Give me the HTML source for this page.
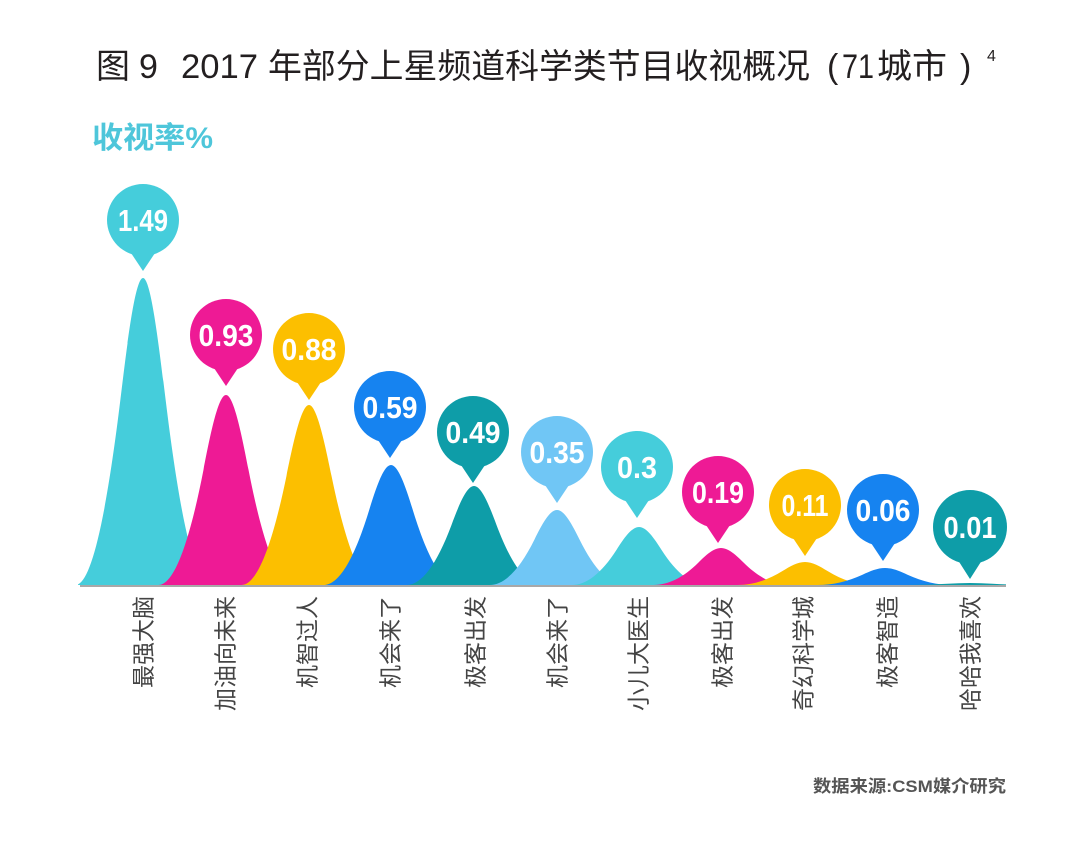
<!DOCTYPE html>
<html><head><meta charset="utf-8"><style>
html,body{margin:0;padding:0;background:#fff;}
svg{display:block;}
</style></head><body>
<svg width="1080" height="851" viewBox="0 0 1080 851" xmlns="http://www.w3.org/2000/svg" font-family="'Liberation Sans','Noto Sans CJK SC',sans-serif">
<defs>
<path id="bell" d="M-3.2 0 L-3 0 C-2.333 0,-1.667 0.2022,-1 0.6065 C-0.667 0.8087,-0.333 1,0 1 C0.333 1,0.667 0.8087,1 0.6065 C1.667 0.2022,2.333 0,3 0 L3.2 0 Z"/>
<clipPath id="clip"><rect x="78" y="150" width="928" height="436"/></clipPath>
</defs>
<rect width="1080" height="851" fill="#fff"/>
<!-- Title -->
<g fill="#231f20" font-size="34">
<text x="96" y="78">图</text>
<text x="139" y="78">9</text>
<text x="181" y="78" textLength="77" lengthAdjust="spacingAndGlyphs">2017</text>
<text x="268" y="78" textLength="542" lengthAdjust="spacingAndGlyphs">年部分上星频道科学类节目收视概况</text>
<text x="827" y="78">(</text>
<text x="842" y="78" textLength="32" lengthAdjust="spacingAndGlyphs">71</text>
<text x="877" y="78" textLength="70" lengthAdjust="spacingAndGlyphs">城市</text>
<text x="960" y="78">)</text>
<text x="987" y="61" font-size="16">4</text>
</g>
<text x="92" y="148" font-size="30" font-weight="bold" fill="#4ec6da" textLength="121" lengthAdjust="spacingAndGlyphs">收视率%</text>
<!-- Bells -->
<g clip-path="url(#clip)">
<use href="#bell" transform="translate(143,585) scale(22.5,-307)" fill="#45cddb"/>
<use href="#bell" transform="translate(226,585) scale(22.5,-190)" fill="#ee1a95"/>
<use href="#bell" transform="translate(309,585) scale(22.5,-180)" fill="#fcbf00"/>
<use href="#bell" transform="translate(391,585) scale(22.5,-120)" fill="#1683f0"/>
<use href="#bell" transform="translate(474,585) scale(22.5,-99)" fill="#0e9da8"/>
<use href="#bell" transform="translate(557,585) scale(22.5,-75)" fill="#70c6f5"/>
<use href="#bell" transform="translate(639,585) scale(22.5,-58)" fill="#45cddb"/>
<use href="#bell" transform="translate(721,585) scale(22.5,-37)" fill="#ee1a95"/>
<use href="#bell" transform="translate(805,585) scale(22.5,-23)" fill="#fcbf00"/>
<use href="#bell" transform="translate(885,585) scale(22.5,-17)" fill="#1683f0"/>
<use href="#bell" transform="translate(970,585) scale(22.5,-2)" fill="#0e9da8"/>
</g>
<line x1="80" y1="586" x2="1006" y2="586" stroke="#a8a8a8" stroke-width="2"/>
<!-- Bubbles -->
<g font-weight="bold" font-size="31" fill="#fff" text-anchor="middle">
<g transform="translate(143,220)"><circle r="36" fill="#45cddb"/><path d="M-14 30 L0 51 L14 30 Z" fill="#45cddb"/><text y="11" textLength="50" lengthAdjust="spacingAndGlyphs">1.49</text></g>
<g transform="translate(226,335)"><circle r="36" fill="#ee1a95"/><path d="M-14 30 L0 51 L14 30 Z" fill="#ee1a95"/><text y="11" textLength="55" lengthAdjust="spacingAndGlyphs">0.93</text></g>
<g transform="translate(309,349)"><circle r="36" fill="#fcbf00"/><path d="M-14 30 L0 51 L14 30 Z" fill="#fcbf00"/><text y="11" textLength="55" lengthAdjust="spacingAndGlyphs">0.88</text></g>
<g transform="translate(390,407)"><circle r="36" fill="#1683f0"/><path d="M-14 30 L0 51 L14 30 Z" fill="#1683f0"/><text y="11" textLength="55" lengthAdjust="spacingAndGlyphs">0.59</text></g>
<g transform="translate(473,432)"><circle r="36" fill="#0e9da8"/><path d="M-14 30 L0 51 L14 30 Z" fill="#0e9da8"/><text y="11" textLength="55" lengthAdjust="spacingAndGlyphs">0.49</text></g>
<g transform="translate(557,452)"><circle r="36" fill="#70c6f5"/><path d="M-14 30 L0 51 L14 30 Z" fill="#70c6f5"/><text y="11" textLength="55" lengthAdjust="spacingAndGlyphs">0.35</text></g>
<g transform="translate(637,467)"><circle r="36" fill="#45cddb"/><path d="M-14 30 L0 51 L14 30 Z" fill="#45cddb"/><text y="11" textLength="40" lengthAdjust="spacingAndGlyphs">0.3</text></g>
<g transform="translate(718,492)"><circle r="36" fill="#ee1a95"/><path d="M-14 30 L0 51 L14 30 Z" fill="#ee1a95"/><text y="11" textLength="52" lengthAdjust="spacingAndGlyphs">0.19</text></g>
<g transform="translate(805,505)"><circle r="36" fill="#fcbf00"/><path d="M-14 30 L0 51 L14 30 Z" fill="#fcbf00"/><text y="11" textLength="47" lengthAdjust="spacingAndGlyphs">0.11</text></g>
<g transform="translate(883,510)"><circle r="36" fill="#1683f0"/><path d="M-14 30 L0 51 L14 30 Z" fill="#1683f0"/><text y="11" textLength="55" lengthAdjust="spacingAndGlyphs">0.06</text></g>
<g transform="translate(970,527)"><circle r="37" fill="#0e9da8"/><path d="M-14 30 L0 52 L14 30 Z" fill="#0e9da8"/><text y="11" textLength="53" lengthAdjust="spacingAndGlyphs">0.01</text></g>
</g>
<!-- Labels -->
<g font-size="23" fill="#444" text-anchor="end">
<text transform="translate(151.5,596) rotate(-90)">最强大脑</text>
<text transform="translate(233.5,596) rotate(-90)">加油向未来</text>
<text transform="translate(315.5,596) rotate(-90)">机智过人</text>
<text transform="translate(398.5,596) rotate(-90)">机会来了</text>
<text transform="translate(483.5,596) rotate(-90)">极客出发</text>
<text transform="translate(565.5,596) rotate(-90)">机会来了</text>
<text transform="translate(646.5,596) rotate(-90)">小儿大医生</text>
<text transform="translate(730.5,596) rotate(-90)">极客出发</text>
<text transform="translate(811.5,596) rotate(-90)">奇幻科学城</text>
<text transform="translate(895.5,596) rotate(-90)">极客智造</text>
<text transform="translate(978.5,596) rotate(-90)">哈哈我喜欢</text>
</g>
<text x="813" y="792" font-size="17" font-weight="bold" fill="#555" textLength="193" lengthAdjust="spacingAndGlyphs">数据来源:CSM媒介研究</text>
</svg>
</body></html>
